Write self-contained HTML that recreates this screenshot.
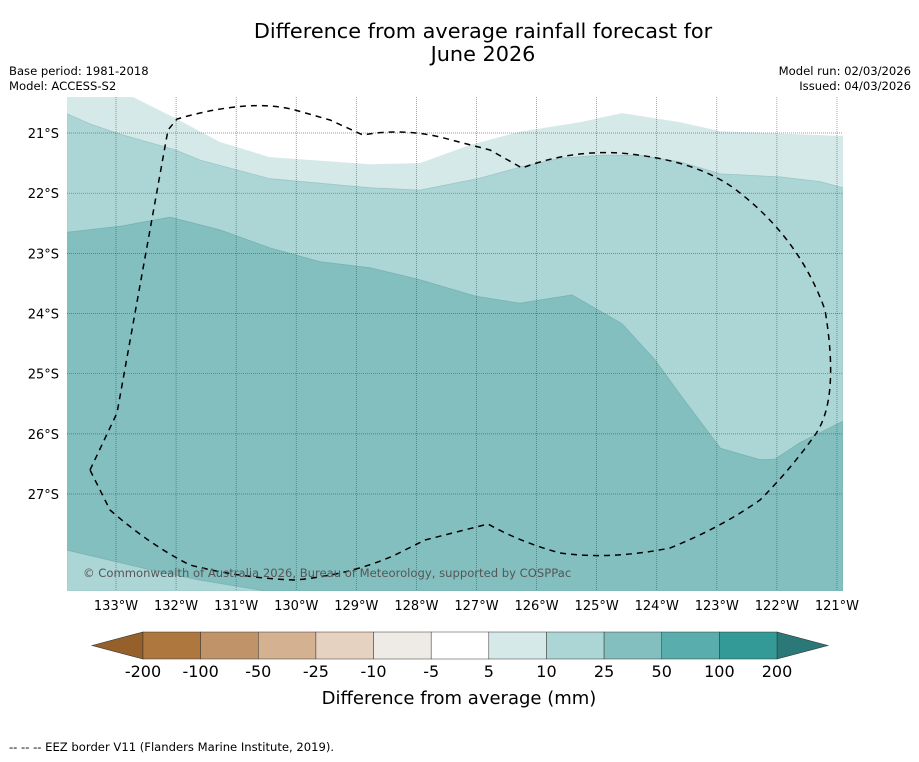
<!DOCTYPE html>
<html><head><meta charset="utf-8"><style>
body{margin:0;background:#fff;font-family:"DejaVu Sans","Liberation Sans",sans-serif}
svg text{font-family:"DejaVu Sans","Liberation Sans",sans-serif}
</style></head><body>
<svg width="919" height="758" viewBox="0 0 919 758">
<rect width="919" height="758" fill="#fff"/>
<text x="483" y="38" font-size="20.8" text-anchor="middle">Difference from average rainfall forecast for</text>
<text x="483" y="61" font-size="20.8" text-anchor="middle">June 2026</text>
<text x="9" y="75" font-size="11.6">Base period: 1981-2018</text>
<text x="9" y="90" font-size="11.6">Model: ACCESS-S2</text>
<text x="911" y="75" font-size="11.6" text-anchor="end">Model run: 02/03/2026</text>
<text x="911" y="90" font-size="11.6" text-anchor="end">Issued: 04/03/2026</text>
<g id="map"></g>
<g id="cbar"></g>
<text x="459" y="704" font-size="18" text-anchor="middle">Difference from average (mm)</text>
<text x="9" y="751" font-size="11.6">--  --  -- EEZ border V11 (Flanders Marine Institute, 2019).</text>
</svg>
<script>
const lonTicks=[-133,-132,-131,-130,-129,-128,-127,-126,-125,-124,-123,-122,-121];
const latTicks=[-21,-22,-23,-24,-25,-26,-27];
const whiteLon=[-132.72,-132.02,-131.27,-130.44,-128.77,-127.94,-127.11,-126.28,-125.28,-124.58,-123.61,-122.94,-120.90,-120.90];
const whiteLat=[-20.40,-20.75,-21.15,-21.40,-21.52,-21.50,-21.20,-20.98,-20.82,-20.67,-20.82,-20.97,-21.05,-20.40];
const b10Lon=[-133.82,-133.43,-132.93,-132.02,-131.60,-130.44,-128.77,-127.94,-126.94,-126.28,-125.61,-124.94,-124.28,-123.61,-122.94,-121.95,-121.28,-120.90];
const b10Lat=[-20.68,-20.85,-21.02,-21.28,-21.45,-21.76,-21.91,-21.95,-21.75,-21.57,-21.42,-21.37,-21.37,-21.48,-21.68,-21.73,-21.81,-21.91];
const b25Lon=[-133.82,-132.93,-132.10,-131.27,-130.44,-129.60,-128.77,-127.94,-127.02,-126.28,-125.41,-124.58,-124.03,-123.61,-122.94,-122.28,-122.03,-121.62,-120.90];
const b25Lat=[-22.65,-22.55,-22.40,-22.61,-22.91,-23.14,-23.24,-23.44,-23.71,-23.83,-23.69,-24.17,-24.77,-25.35,-26.24,-26.43,-26.42,-26.15,-25.79];
const botLon=[-133.82,-133.10,-132.43,-131.60,-130.52];
const botLat=[-27.93,-28.10,-28.26,-28.43,-28.61];
const levels=['-200','-100','-50','-25','-10','-5','5','10','25','50','100','200'];
const colors=['#ae773e','#c09468','#d4b190','#e6d2c0','#eeebe7','#ffffff','#d5e9e8','#acd5d5','#84bfbf','#5aadad','#339a98'];
const NS='http://www.w3.org/2000/svg';
const X=lon=>116+(lon+133)*60.08;
const Y=lat=>133+(-lat-21)*60.17;
const L=67,R=843,T=97,B=591;
function mk(t,a,p){const e=document.createElementNS(NS,t);for(const k in a)e.setAttribute(k,a[k]);p.appendChild(e);return e;}
const map=document.getElementById('map');
const clip=mk('clipPath',{id:'mc'},map);mk('rect',{x:L,y:T,width:R-L,height:B-T},clip);
const g=mk('g',{'clip-path':'url(#mc)'},map);
const bg=mk('rect',{x:L,y:T,width:R-L,height:B-T,fill:'#d5e9e8'},g);


function pts(lo,la){return lo.map((v,i)=>X(v).toFixed(1)+','+Y(la[i]).toFixed(1));}
const w=mk('polygon',{points:pts(whiteLon,whiteLat).join(' '),fill:'#ffffff'},g);


const p10=pts(b10Lon,b10Lat);
const a=mk('polygon',{points:p10.join(' ')+' '+R+','+B+' '+L+','+B,fill:'#acd5d5',stroke:'#9cc7c7','stroke-width':0.8},g);


const p25=pts(b25Lon,b25Lat);
const pb=pts(botLon,botLat);
const c=mk('polygon',{points:p25.join(' ')+' '+R+','+B+' '+pb.slice().reverse().join(' '),fill:'#84bfbf',stroke:'#78b3b3','stroke-width':0.8},g);


latTicks.forEach(v=>{const l=mk('line',{x1:L,x2:R,y1:Y(v),y2:Y(v),stroke:'#444','stroke-width':0.7,'stroke-dasharray':'1,1','stroke-opacity':0.7},g);


const t=mk('text',{x:59,y:Y(v)+5,'font-size':13,'text-anchor':'end'},map);t.textContent=(-v)+'°S';

});
lonTicks.forEach(v=>{const l=mk('line',{x1:X(v),x2:X(v),y1:T,y2:B,stroke:'#444','stroke-width':0.7,'stroke-dasharray':'1,1','stroke-opacity':0.7},g);


const t=mk('text',{x:X(v),y:610,'font-size':13,'text-anchor':'middle'},map);t.textContent=(-v)+'°W';

});
const eez=mk('path',{d:'M90,470 L117,413 L168,130 L177,119 Q250,98 295,110 L330,120 L363,135 Q400,128 440,137 L490,150 L522,168 Q570,150 620,153 Q700,160 740,193 Q800,240 825,310 Q840,400 815,435 Q790,470 760,500 Q720,528 670,548 Q610,560 560,553 Q520,542 488,524 L425,540 L395,555 Q350,575 295,580 Q240,578 190,565 Q150,545 110,510 Z',fill:'none',stroke:'#000','stroke-width':1.5,'stroke-dasharray':'6,5'},g);


const cp=mk('text',{x:83,y:577,'font-size':11.6,fill:'#555'},g);cp.textContent='© Commonwealth of Australia 2026, Bureau of Meteorology, supported by COSPPac';


const cb=document.getElementById('cbar');
const x0=143,cw=(777-143)/colors.length,cy=632,ch=27;
mk('polygon',{points:`92,645.5 ${x0},${cy} ${x0},${cy+ch}`,fill:'#95602a',stroke:'#333','stroke-width':0.6},cb);
mk('polygon',{points:`828,645.5 777,${cy} 777,${cy+ch}`,fill:'#2a7878',stroke:'#333','stroke-width':0.6},cb);
colors.forEach((col,i)=>{const r=mk('rect',{x:x0+i*cw,y:cy,width:cw,height:ch,fill:col,stroke:'#333','stroke-width':0.5},cb);

});
levels.forEach((s,i)=>{const t=mk('text',{x:x0+i*cw,y:677,'font-size':16,'text-anchor':'middle'},cb);t.textContent=s;

});
</script>
</body></html>
